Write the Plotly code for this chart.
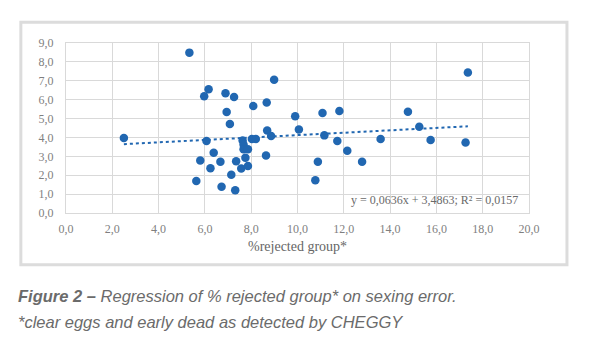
import plotly.graph_objects as go

# % rejected group (x) vs sexing error (y)
rejected_pct = [2.5, 5.33, 5.63, 5.8, 5.97, 6.07, 6.16, 6.24, 6.38, 6.67,
                6.72, 6.89, 6.94, 7.08, 7.14, 7.26, 7.31, 7.35, 7.57, 7.63,
                7.67, 7.67, 7.75, 7.86, 7.86, 8.03, 8.09, 8.2, 8.64, 8.67,
                8.69, 8.86, 8.99, 9.9, 10.06, 10.77, 10.88, 11.08, 11.16, 11.72,
                11.81, 12.15, 12.79, 13.59, 14.77, 15.26, 15.75, 17.26, 17.36]
sexing_error = [3.97, 8.49, 1.69, 2.78, 6.18, 3.81, 6.55, 2.37, 3.19, 2.71,
                1.39, 6.34, 5.35, 4.71, 2.03, 6.14, 1.2, 2.74, 2.36, 3.84,
                3.63, 3.38, 2.93, 3.38, 2.49, 3.92, 5.66, 3.92, 3.04, 5.85,
                4.37, 4.08, 7.06, 5.12, 4.42, 1.73, 2.71, 5.29, 4.11, 3.81,
                5.4, 3.3, 2.71, 3.92, 5.36, 4.57, 3.87, 3.73, 7.44]

# Linear trend line reported on the chart
slope = 0.0636
intercept = 3.4863
r_squared = 0.0157

x_ticks = [0, 2, 4, 6, 8, 10, 12, 14, 16, 18, 20]
y_ticks = [0, 1, 2, 3, 4, 5, 6, 7, 8, 9]

def comma(v, digits):
    return f"{v:.{digits}f}".replace(".", ",")

x_min, x_max = min(rejected_pct), max(rejected_pct)
trend_x = [x_min, x_max]
trend_y = [slope * v + intercept for v in trend_x]

blue = "#2167b1"
grid = "#d9d9d9"
serif = "Liberation Serif, Times New Roman, serif"
tick_font = dict(family=serif, size=12, color="#7f7f7f")

fig = go.Figure()
fig.add_trace(go.Scatter(
    x=rejected_pct, y=sexing_error, mode="markers",
    marker=dict(size=8.5, color=blue, line=dict(width=0)),
    showlegend=False,
))
fig.add_trace(go.Scatter(
    x=trend_x, y=trend_y, mode="lines",
    line=dict(color=blue, width=2, dash="dot"),
    showlegend=False,
))

fig.update_xaxes(
    range=[0, 20], tickvals=x_ticks, ticktext=[comma(v, 1) for v in x_ticks],
    showgrid=True, gridcolor=grid, gridwidth=1,
    zeroline=False, showline=True, linecolor=grid, linewidth=1, mirror=True,
    ticks="", ticklabelstandoff=5, tickfont=tick_font, fixedrange=True,
)
fig.update_yaxes(
    range=[0, 9], tickvals=y_ticks, ticktext=[comma(v, 1) for v in y_ticks],
    showgrid=True, gridcolor=grid, gridwidth=1,
    zeroline=False, showline=True, linecolor=grid, linewidth=1, mirror=True,
    ticks="", ticklabelstandoff=9, tickfont=tick_font, fixedrange=True,
)

# Plot area in pixels: x 65.7..529.3, y 42.7..213.3
L, R, T, B = 65.7, 529.3, 42.7, 213.3
W, H = R - L, B - T

def px_x(p):
    return (p - L) / W

def px_y(p):
    return (B - p) / H

annotations = [
    dict(
        x=15.9, y=0.7, xref="x", yref="y",
        text=f"y = {comma(slope, 4)}x + {comma(intercept, 4)}; R² = {comma(r_squared, 4)}",
        showarrow=False, xanchor="center", yanchor="middle",
        font=dict(family=serif, size=12, color="#6a6a6a"),
    ),
    dict(
        x=0.5, y=px_y(247), xref="paper", yref="paper",
        text="%rejected group*", showarrow=False, xanchor="center", yanchor="middle",
        font=dict(family=serif, size=14, color="#666666"),
    ),
    dict(
        x=px_x(16), y=px_y(297), xref="paper", yref="paper",
        text="<b><i>Figure 2 –</i></b><i> Regression of % rejected group* on sexing error.</i>",
        showarrow=False, xanchor="left", yanchor="middle",
        font=dict(family="Liberation Sans, Arial, sans-serif", size=16.5, color="#6b6b6b"),
    ),
    dict(
        x=px_x(16), y=px_y(323), xref="paper", yref="paper",
        text="<i>*clear eggs and early dead as detected by CHEGGY</i>",
        showarrow=False, xanchor="left", yanchor="middle",
        font=dict(family="Liberation Sans, Arial, sans-serif", size=16.5, color="#6b6b6b"),
    ),
]

shapes = [
    dict(
        type="rect", xref="paper", yref="paper",
        x0=px_x(20.5), x1=px_x(567.3), y0=px_y(265.3), y1=px_y(22),
        line=dict(color="#dcdcdc", width=3), fillcolor="rgba(0,0,0,0)", layer="below",
    )
]

fig.update_layout(
    width=591, height=349,
    margin=dict(l=L, r=591 - R, t=T, b=349 - B, pad=0),
    paper_bgcolor="white", plot_bgcolor="white",
    annotations=annotations, shapes=shapes,
)

fig.write_html("out.html", config={"displayModeBar": False})
